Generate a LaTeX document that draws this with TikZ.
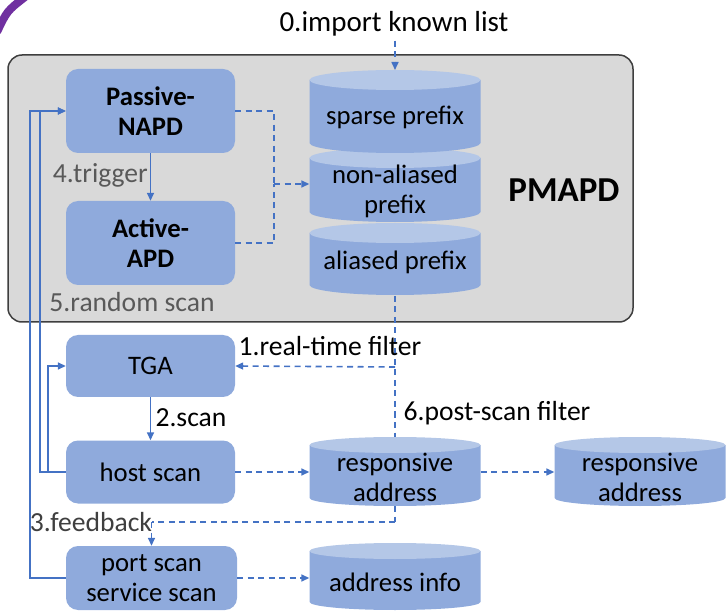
\documentclass[tikz,border=0pt]{standalone}
\usepackage{fontspec}
\setmainfont{Carlito}
\usetikzlibrary{arrows.meta}

\definecolor{boxblue}{HTML}{8FAADC}
\definecolor{toplight}{HTML}{B4C7E7}
\definecolor{linkblue}{HTML}{4472C4}
\definecolor{panelgray}{HTML}{D9D9D9}
\definecolor{paneledge}{HTML}{3F3F3F}
\definecolor{notegray}{HTML}{595959}
\definecolor{darknote}{HTML}{3F3F3F}
\definecolor{arcpurple}{HTML}{7030A0}

\newcommand\bodyfont{\fontsize{26.7}{30}\selectfont}
\newcommand\labelfont{\fontsize{27.6}{30}\selectfont}

% database cylinder: centre x, x radius, top-end y, bottom-end y, end radius
\newcommand\dbcyl[5]{%
  \fill[boxblue] ({#1-#2},#3) -- ({#1-#2},#4)
    arc[start angle=180,end angle=360,x radius=#2pt,y radius=#5pt]
    -- ({#1+#2},#3) -- cycle;
  \fill[toplight] (#1,#3) ellipse[x radius=#2pt,y radius=#5pt];
}

\tikzset{
  panel/.style={fill=panelgray, draw=paneledge, line width=1.5pt, rounded corners=14pt},
  proc/.style={fill=boxblue, rounded corners=12pt, minimum width=169pt, align=center, text=black},
  cyltext/.style={minimum width=171pt, align=center, text=black},
  link/.style={draw=linkblue, line width=1.6pt},
  flow/.style={link, -{Triangle[length=8pt,width=7pt]}},
  dline/.style={link, dash pattern=on 6pt off 4.5pt},
  dflow/.style={flow, dash pattern=on 6pt off 4.5pt},
  lbl/.style={font=\labelfont},
  note/.style={lbl, text=notegray},
}

\begin{document}
\begin{tikzpicture}[x=1pt,y=-1pt, font=\bodyfont, every node/.style={inner sep=0pt}]
\useasboundingbox (0,0) rectangle (726,612);

% corner flourish
\draw[arcpurple, line width=8pt] (-3,32) .. controls (7,11) .. (25,-3);

% PMAPD panel
\node[panel, minimum width=625pt, minimum height=267pt] (pmapdpanel) at (320.5,188.5) {};
\node[font=\fontsize{35}{40}\selectfont\bfseries] (pmapd) at (564,190) {PMAPD};

% filter line running behind the responsive-address store
\coordinate (aliasbase) at (395,296);
\coordinate (fsplit) at (395,367);
\coordinate (fturn) at (395,522);

% prefix stores, lowest first so each upper can overlaps the one below
\dbcyl{395}{85.5}{233}{285}{10}
\dbcyl{395}{85.5}{158}{212}{10}
\dbcyl{395}{85.5}{80}{143}{10}
\coordinate (sparsetop) at (395,70);

\draw[dline] (aliasbase) -- (fturn);

% address stores
\dbcyl{395}{85.5}{445}{498}{8}
\dbcyl{640}{85.5}{445}{498}{8}
\dbcyl{395}{85.5}{551}{602}{8}

\node[cyltext] (sparse) at (395,117) {sparse prefix};
\node[cyltext] (nonal) at (395,191) {non-aliased\\prefix};
\node[cyltext] (alias) at (395,262) {aliased prefix};
\node[cyltext] (resp) at (395,477) {responsive\\address};
\node[cyltext] (resp2) at (640,477) {responsive\\address};
\node[cyltext] (info) at (395,582) {address info};

% process boxes
\node[proc, minimum height=84pt, font=\bodyfont\bfseries] (passive) at (150.5,111) {Passive-\\NAPD};
\node[proc, minimum height=84pt, font=\bodyfont\bfseries] (active) at (150.5,243) {Active-\\APD};
\node[proc, minimum height=62pt] (tga) at (150.5,366) {TGA};
\node[proc, minimum height=63pt] (host) at (150.5,472) {host scan};
\node[proc, minimum height=64pt, minimum width=171pt] (port) at (151.5,578) {port scan\\service scan};

% labels
\node[font=\fontsize{29}{32}\selectfont] (import) at (394,24) {0.import known list};
\node[note, anchor=east] (trig) at (148,175) {4.trigger};
\node[note] (rand) at (132,302) {5.random scan};
\node[lbl] (rtf) at (330,346) {1.real-time filter};
\node[lbl] (scanlbl) at (191,418) {2.scan};
\node[lbl] (psf) at (497,413) {6.post-scan filter};
\node[lbl, text=darknote] (fb) at (91,522) {3.feedback};

% import and trigger
\draw[dflow, shorten <=4pt] (sparsetop |- import.south) -- (sparsetop);
\draw[flow] (passive.south) -- (active.north);

% detectors feed the prefix store
\coordinate (merge) at (274,184);
\draw[dline] (passive.east) -| (merge);
\draw[dline] (active.east) -| (merge);
\draw[dflow] (merge) -- (merge -| nonal.west);

% filtering
\coordinate (fbend) at (port.north |- fturn);
\draw[dflow] (fsplit) -- (tga.east);
\draw[dline] (fturn) -- (fbend);
\draw[dflow] (fbend) -- (port.north);

% scanning pipeline
\draw[flow] (tga.south) -- (host.north);
\draw[dflow] (host.east) -- (host.east -| resp.west);
\draw[dflow] (resp.east |- host.east) -- (resp2.west |- host.east);
\draw[dflow] (port.east) -- (port.east -| info.west);

% feedback loops
\draw[flow] (host.west) -- ++(-18,0) |- (tga.west);
\draw[flow] (host.west) -- ++(-26,0) |- (passive.west);
\draw[flow] (port.west) -- ++(-36,0) |- (passive.west);
\end{tikzpicture}
\end{document}
